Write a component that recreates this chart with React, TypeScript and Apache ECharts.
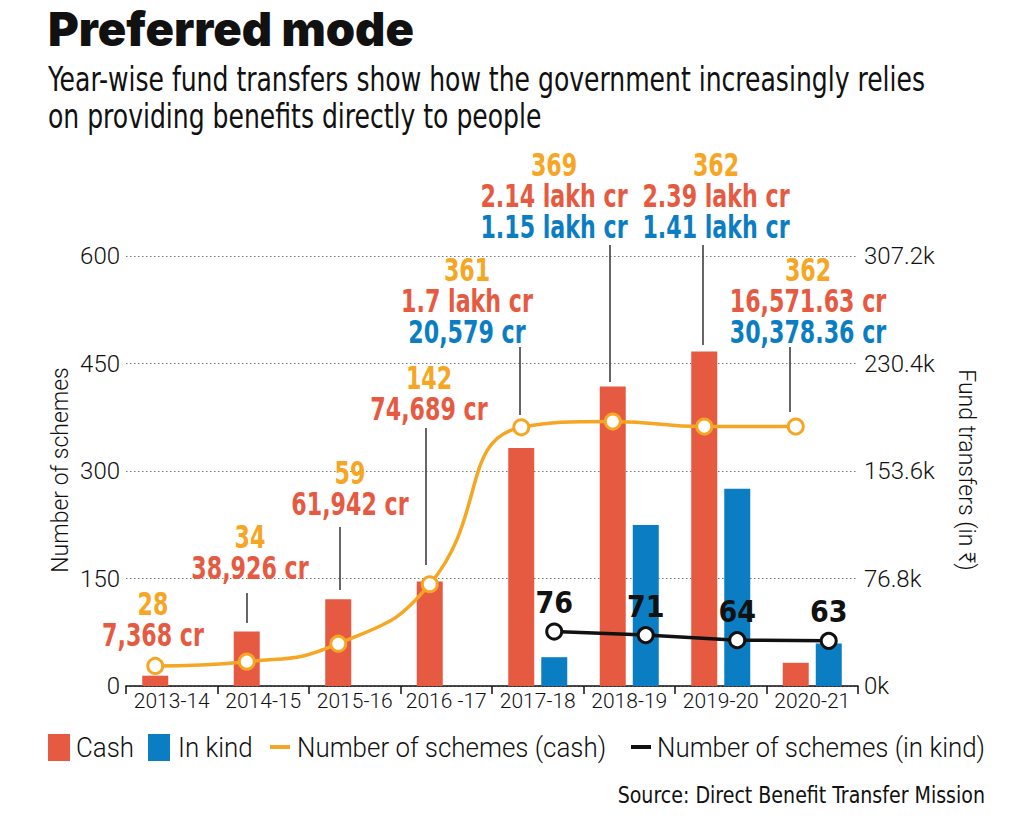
import React, { useEffect, useRef } from "react";
import * as echarts from "echarts";

const years = ["2013-14", "2014-15", "2015-16", "2016 -17", "2017-18", "2018-19", "2019-20", "2020-21"];
const cashCrore = [7368, 38926, 61942, 74689, 170000, 214000, 239000, 16571.63];
const inKindCrore = [null, null, null, null, 20579, 115000, 141000, 30378.36];
const cashSchemes = [28, 34, 59, 142, 361, 369, 362, 362];
const inKindSchemes = [null, null, null, null, 76, 71, 64, 63];
const leftTicks = { min: 0, max: 600, interval: 150 };
const rightTicks = { min: 0, max: 307200, interval: 76800 };

const cashLabels = ["28", "34", "59", "142", "361", "369", "362", "362"];
const cashAmountLabels = ["7,368 cr", "38,926 cr", "61,942 cr", "74,689 cr", "1.7 lakh cr", "2.14 lakh cr", "2.39 lakh cr", "16,571.63 cr"];
const inKindAmountLabels = ["", "", "", "", "20,579 cr", "1.15 lakh cr", "1.41 lakh cr", "30,378.36 cr"];

const RED = "#E65A41";
const BLUE = "#0B7EC3";
const ORANGE = "#F6A623";
const BLACK = "#111111";
const COND = "'DejaVu Sans Condensed', 'DejaVu Sans', sans-serif";
const LIGHT = "'Roboto', sans-serif";

// annotation layout (text centre x, first line y, leader line)
const annoLayout = [
  { x: 153, y: 604, lead: null },
  { x: 250, y: 537, lead: [247, 593, 623] },
  { x: 350, y: 473, lead: [340, 527, 590] },
  { x: 429, y: 378, lead: [426, 428, 565] },
  { x: 467, y: 270, lead: [520, 347, 415] },
  { x: 554, y: 165, lead: [610, 245, 382] },
  { x: 716, y: 165, lead: [703, 245, 345] },
  { x: 808, y: 270, lead: [790, 347, 412] },
];

export default function App() {
  const ref = useRef<HTMLDivElement>(null);
  useEffect(() => {
    document.body.style.margin = "0";
    const chart = echarts.init(ref.current!, null, { renderer: "svg" });
    const offset = 0.18;
    const cashLine = cashSchemes.map((v, i) => [i - offset, v]);
    const kindLine = inKindSchemes
      .map((v, i) => (v == null ? null : [i + offset, v]))
      .filter((d) => d !== null);

    const graphics: any[] = [];
    graphics.push({
      type: "text", x: 48, y: 28,
      style: { text: "Preferred mode", font: "900 47px Inter, Lato, sans-serif", fill: "#111", verticalAlign: "middle" },
    });
    graphics.push({
      type: "text", x: 48, y: 80, scaleX: 0.845,
      style: { text: "Year-wise fund transfers show how the government increasingly relies", font: `400 33px ${COND}`, fill: "#111", verticalAlign: "middle" },
    });
    graphics.push({
      type: "text", x: 48, y: 117, scaleX: 0.845,
      style: { text: "on providing benefits directly to people", font: `400 33px ${COND}`, fill: "#111", verticalAlign: "middle" },
    });
    annoLayout.forEach((a, i) => {
      const lines = [
        { t: cashLabels[i], c: ORANGE },
        { t: cashAmountLabels[i], c: RED },
        { t: inKindAmountLabels[i], c: BLUE },
      ].filter((l) => l.t);
      lines.forEach((l, k) => {
        graphics.push({
          type: "text", x: a.x, y: a.y + k * 31, scaleX: 0.77,
          style: { text: l.t, font: `bold 32px ${COND}`, fill: l.c, align: "center", verticalAlign: "middle" },
          z: 10,
        });
      });
      if (a.lead) {
        graphics.push({
          type: "line",
          shape: { x1: a.lead[0], y1: a.lead[1], x2: a.lead[0], y2: a.lead[2] },
          style: { stroke: "#333", lineWidth: 1.5 },
          z: 10,
        });
      }
    });
    // axis names
    graphics.push({
      type: "text", x: 60, y: 470, rotation: Math.PI / 2,
      style: { text: "Number of schemes", font: `300 23px ${LIGHT}`, fill: "#111", align: "center", verticalAlign: "middle" },
    });
    graphics.push({
      type: "text", x: 966, y: 470, rotation: -Math.PI / 2,
      style: { text: "Fund transfers (in \u20B9)", font: `300 23px ${LIGHT}`, fill: "#111", align: "center", verticalAlign: "middle" },
    });
    // legend
    const legendY = 747;
    const legendItems = [
      { kind: "box", color: RED, x: 48, text: "Cash", tx: 76 },
      { kind: "box", color: BLUE, x: 148, text: "In kind", tx: 178 },
      { kind: "dash", color: ORANGE, x: 270, text: "Number of schemes (cash)", tx: 297 },
      { kind: "dash", color: BLACK, x: 631, text: "Number of schemes (in kind)", tx: 657 },
    ];
    legendItems.forEach((it) => {
      if (it.kind === "box") {
        graphics.push({ type: "rect", shape: { x: it.x, y: legendY - 13, width: 22, height: 27 }, style: { fill: it.color } });
      } else {
        graphics.push({ type: "rect", shape: { x: it.x, y: legendY - 2, width: 20, height: 4 }, style: { fill: it.color } });
      }
      graphics.push({
        type: "text", x: it.tx, y: legendY, scaleX: 0.96,
        style: { text: it.text, font: `300 27px ${LIGHT}`, fill: "#111", verticalAlign: "middle", align: "left" },
      });
    });
    graphics.push({
      type: "text", x: 985, y: 795, scaleX: 0.92,
      style: { text: "Source: Direct Benefit Transfer Mission", font: `400 23px ${COND}`, fill: "#111", align: "right", verticalAlign: "middle" },
    });

    chart.setOption({
      animation: false,
      backgroundColor: "#fff",
      grid: { left: 126, right: 166, top: 256, bottom: 140 },
      xAxis: [
        {
          type: "category",
          data: years,
          axisLine: { lineStyle: { color: "#111", width: 1.5 } },
          axisTick: { show: true, length: 8, lineStyle: { color: "#111", width: 1.5 } },
          axisLabel: { interval: 0, fontSize: 21, fontFamily: LIGHT, fontWeight: 300, color: "#111", margin: 4 },
        },
        { type: "value", min: -0.5, max: 7.5, show: false },
      ],
      yAxis: [
        {
          type: "value", ...leftTicks, position: "left",
          axisLine: { show: false }, axisTick: { show: false },
          axisLabel: { fontSize: 24, fontFamily: LIGHT, fontWeight: 300, color: "#111", margin: 6 },
          splitLine: { show: true, lineStyle: { type: [1.5, 2.5], color: "#777", width: 1 } },
        },
        {
          type: "value", ...rightTicks, position: "right",
          axisLine: { show: false }, axisTick: { show: false },
          axisLabel: {
            fontSize: 24, fontFamily: LIGHT, fontWeight: 300, color: "#111", margin: 6,
            formatter: (v: number) => `${v / 1000}k`,
          },
          splitLine: { show: false },
        },
      ],
      series: [
        { name: "Cash", type: "bar", xAxisIndex: 0, yAxisIndex: 1, data: cashCrore, barWidth: 26, barGap: "27%", itemStyle: { color: RED } },
        { name: "In kind", type: "bar", xAxisIndex: 0, yAxisIndex: 1, data: inKindCrore, barWidth: 26, itemStyle: { color: BLUE } },
        {
          name: "Number of schemes (cash)", type: "line", xAxisIndex: 1, yAxisIndex: 0, data: cashLine, smooth: 0.5,
          lineStyle: { color: ORANGE, width: 3.5 }, symbol: "circle", symbolSize: 15,
          itemStyle: { color: "#fff", borderColor: ORANGE, borderWidth: 3 }, z: 5,
        },
        {
          name: "Number of schemes (in kind)", type: "line", xAxisIndex: 1, yAxisIndex: 0, data: kindLine,
          lineStyle: { color: BLACK, width: 3.5 }, symbol: "circle", symbolSize: 15,
          itemStyle: { color: "#fff", borderColor: BLACK, borderWidth: 3 }, z: 5,
          label: { show: true, position: "top", distance: 5, fontSize: 30, fontWeight: "bold", fontFamily: COND, color: BLACK, formatter: (p: any) => `${p.value[1]}` },
        },
      ],
      graphic: graphics,
    });
    return () => chart.dispose();
  }, []);
  return <div ref={ref} style={{ width: 1024, height: 826 }} />;
}
